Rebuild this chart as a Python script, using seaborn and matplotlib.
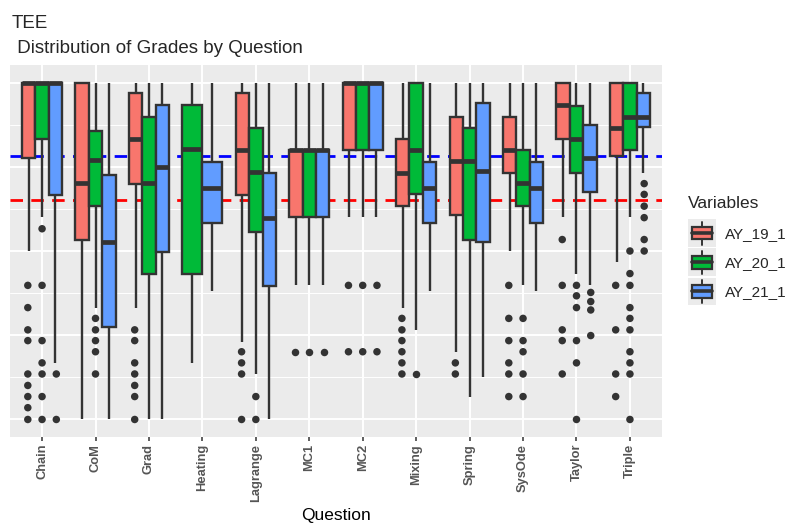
import numpy as np
import pandas as pd
import matplotlib
matplotlib.use("Agg")
import matplotlib.pyplot as plt
import seaborn as sns
from matplotlib.legend_handler import HandlerBase
from matplotlib.patches import Rectangle, Patch
from matplotlib.lines import Line2D
from matplotlib.ticker import MultipleLocator

# %% Data (grades as fraction, 0..1)
questions = ["Chain", "CoM", "Grad", "Heating", "Lagrange", "MC1",
             "MC2", "Mixing", "Spring", "SysOde", "Taylor", "Triple"]
years = ["AY_19_1", "AY_20_1", "AY_21_1"]
colors = ["#F8766D", "#00BA38", "#619CFF"]

# whisker low, q1, median, q3, whisker high per question (None = no data)
ay19_box = [
    [0.50, 0.775, 1.0, 1.0, 1.0],
    [0.0, 0.532, 0.702, 1.0, 1.0],
    [0.332, 0.70, 0.833, 0.968, 1.0],
    None,
    [0.231, 0.666, 0.801, 0.968, 1.0],
    [0.398, 0.60, 0.80, 0.80, 1.0],
    [0.60, 0.80, 1.0, 1.0, 1.0],
    [0.332, 0.633, 0.732, 0.832, 1.0],
    [0.199, 0.608, 0.766, 0.899, 1.0],
    [0.50, 0.732, 0.801, 0.899, 1.0],
    [0.602, 0.833, 0.934, 1.0, 1.0],
    [0.467, 0.783, 0.865, 1.0, 1.0],
]
ay20_box = [
    [0.602, 0.833, 1.0, 1.0, 1.0],
    [0.332, 0.633, 0.771, 0.855, 1.0],
    [0.0, 0.433, 0.702, 0.899, 1.0],
    [0.168, 0.433, 0.803, 0.934, 1.0],
    [0.135, 0.557, 0.734, 0.865, 1.0],
    [0.398, 0.60, 0.80, 0.80, 1.0],
    [0.60, 0.80, 1.0, 1.0, 1.0],
    [0.266, 0.668, 0.801, 1.0, 1.0],
    [0.066, 0.533, 0.766, 0.865, 1.0],
    [0.398, 0.633, 0.702, 0.801, 1.0],
    [0.433, 0.732, 0.833, 0.931, 1.0],
    [0.602, 0.801, 0.899, 1.0, 1.0],
]
ay21_box = [
    [0.168, 0.666, 1.0, 1.0, 1.0],
    [0.0, 0.275, 0.527, 0.725, 1.0],
    [0.0, 0.498, 0.75, 0.934, 1.0],
    [0.38, 0.584, 0.687, 0.763, 1.0],
    [0.0, 0.396, 0.599, 0.732, 1.0],
    [0.398, 0.60, 0.80, 0.80, 1.0],
    [0.60, 0.80, 1.0, 1.0, 1.0],
    [0.38, 0.584, 0.687, 0.763, 1.0],
    [0.125, 0.528, 0.737, 0.939, 1.0],
    [0.38, 0.584, 0.687, 0.763, 1.0],
    [0.398, 0.675, 0.776, 0.875, 1.0],
    [0.732, 0.867, 0.899, 0.968, 1.0],
]

# outlier points per question
ay19_out = [
    [0.398, 0.332, 0.266, 0.234, 0.135, 0.101, 0.068, 0.035, 0.0],
    [],
    [0.266, 0.234, 0.168, 0.135, 0.101, 0.068, 0.0],
    [],
    [0.201, 0.168, 0.135, 0.0],
    [0.201],
    [0.398, 0.201],
    [0.300, 0.266, 0.234, 0.201, 0.168, 0.135],
    [0.168, 0.135],
    [0.398, 0.300, 0.234, 0.168, 0.135, 0.068],
    [0.534, 0.398, 0.266, 0.234, 0.135],
    [0.398, 0.266, 0.135, 0.068],
]
ay20_out = [
    [0.566, 0.398, 0.234, 0.168, 0.135, 0.068, 0.0],
    [0.300, 0.266, 0.234, 0.201, 0.135],
    [],
    [],
    [0.068, 0.0],
    [0.201],
    [0.398, 0.201],
    [0.135],
    [],
    [0.300, 0.234, 0.201, 0.135, 0.068],
    [0.398, 0.367, 0.332, 0.234, 0.168, 0.0],
    [0.500, 0.433, 0.398, 0.332, 0.300, 0.266, 0.201, 0.168, 0.135, 0.0],
]
ay21_out = [
    [0.135, 0.0],
    [],
    [],
    [],
    [],
    [0.201],
    [0.398, 0.201],
    [],
    [],
    [],
    [0.377, 0.350, 0.325, 0.249],
    [0.700, 0.668, 0.633, 0.599, 0.534, 0.500],
]

ref_blue = 0.783
ref_red = 0.65

# %% Build long tables
box_rows, out_rows = [], []
for yr, boxes, outs in zip(years, [ay19_box, ay20_box, ay21_box],
                           [ay19_out, ay20_out, ay21_out]):
    for q, b, o in zip(questions, boxes, outs):
        if b is not None:
            for v in b:
                box_rows.append((q, yr, v))
        for v in o:
            out_rows.append((q, yr, v))
box_df = pd.DataFrame(box_rows, columns=["Question", "Variables", "Grade"])
out_df = pd.DataFrame(out_rows, columns=["Question", "Variables", "Grade"])
pal = dict(zip(years, colors))

# %% Plot
sns.set_theme(style="darkgrid", rc={
    "axes.facecolor": "#EBEBEB", "grid.color": "white",
    "axes.edgecolor": "none"})
plt.rcParams["font.family"] = ["Liberation Sans", "DejaVu Sans"]

fig = plt.figure(figsize=(7.86, 5.23), dpi=100)
ax = fig.add_axes([10 / 786, 1 - 437 / 523, 652 / 786, 372 / 523])

box_kw = dict(x="Question", y="Grade", hue="Variables", order=questions,
              width=0.75, whis=(0, 100), showcaps=False, linecolor="#333333",
              linewidth=1.7, saturation=1, medianprops=dict(linewidth=3.4),
              legend=False, ax=ax)
for q in questions:
    sub = box_df[box_df["Question"] == q]
    present = [y for y in years if y in set(sub["Variables"])]
    sns.boxplot(data=sub, hue_order=present,
                palette={y: pal[y] for y in present}, **box_kw)

sns.stripplot(data=out_df, x="Question", y="Grade", hue="Variables",
              order=questions, hue_order=years,
              palette={y: "#333333" for y in years}, dodge=True, jitter=False,
              size=5.4, legend=False, ax=ax, zorder=3)

ax.axhline(ref_blue, color="#0000FF", lw=2, ls=(0, (4.5, 3)), zorder=1.5)
ax.axhline(ref_red, color="#FF0000", lw=2, ls=(0, (4.5, 3)), zorder=1.5)

ax.set_xlim(-0.6, 11.6)
ax.set_ylim(-0.052, 1.052)
ax.yaxis.set_major_locator(MultipleLocator(0.25))
ax.yaxis.set_minor_locator(MultipleLocator(0.125))
ax.grid(which="major", color="white", lw=1.4)
ax.grid(which="minor", axis="y", color="white", lw=0.7)
ax.set_yticklabels([])
ax.tick_params(axis="y", which="both", length=0, left=False)
ax.tick_params(axis="x", length=3, width=1.1, color="#333333", pad=2,
               bottom=True)
ax.set_ylabel("")
plt.setp(ax.get_xticklabels(), rotation=90, fontsize=9.3,
         fontweight="bold", color="#555555", va="top", ha="center")
ax.set_xlabel("Question", fontsize=12.5, color="black")
ax.xaxis.set_label_coords(336 / 786, 1 - 520 / 523, transform=fig.transFigure)
ax.xaxis.label.set_va("baseline")

fig.text(12 / 786, 1 - 28 / 523, "TEE", fontsize=13.5, va="baseline")
fig.text(12 / 786, 1 - 53 / 523, " Distribution of Grades by Question",
         fontsize=13.5, va="baseline")


class BoxKey(HandlerBase):
    def create_artists(self, legend, orig, xd, yd, w, h, fs, trans):
        x0, y0 = -xd, -yd
        bg = Rectangle((x0, y0), w, h, fc="#EBEBEB", ec="none",
                       transform=trans)
        cx = x0 + w / 2
        wl = Line2D([cx, cx], [y0 + h * 0.08, y0 + h * 0.92],
                    color="#333333", lw=1.4, transform=trans)
        bx = Rectangle((x0 + w * 0.14, y0 + h * 0.27), w * 0.72, h * 0.46,
                       fc=orig.get_facecolor(), ec="#333333", lw=1.6,
                       transform=trans)
        md = Line2D([x0 + w * 0.14, x0 + w * 0.86], [y0 + h / 2] * 2,
                    color="#333333", lw=2.6, transform=trans)
        return [bg, wl, bx, md]


handles = [Patch(facecolor=c, label=y) for y, c in zip(years, colors)]
leg = fig.legend(handles=handles, loc="upper left",
                 bbox_to_anchor=(688 / 786, 1 - 196 / 523), frameon=False,
                 title="Variables", title_fontsize=12.5, fontsize=11,
                 handler_map={Patch: BoxKey()}, handlelength=1.8,
                 handleheight=2.4, labelspacing=0.1, handletextpad=0.6,
                 borderpad=0, borderaxespad=0, alignment="left")
leg._legend_box.sep = 6

fig.savefig("out.png", dpi=100)
